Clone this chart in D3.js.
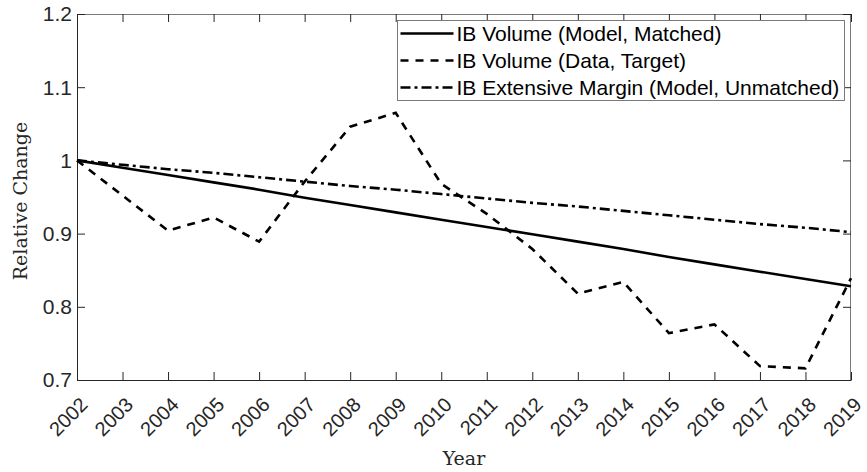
<!DOCTYPE html>
<html>
<head>
<meta charset="utf-8">
<script src="https://cdn.jsdelivr.net/npm/d3@7"></script>
<style>
	body { margin: 0; background: #fff; }
	svg { display: block; }
	.tick-label { font-family: 'Liberation Sans', Arial, sans-serif; font-size: 21px; fill: #262626; }
	.x-label { font-size: 20px; }
	.axis-title { font-family: 'DejaVu Serif', serif; font-size: 19px; fill: #262626; }
</style>
</head>
<body>
<div id="chart"></div>
<script>
// values
const years = [2002, 2003, 2004, 2005, 2006, 2007, 2008, 2009, 2010, 2011, 2012, 2013, 2014, 2015, 2016, 2017, 2018, 2019];
const modelMatched = [1.000, 0.990, 0.980, 0.970, 0.960, 0.949, 0.939, 0.929, 0.919, 0.909, 0.899, 0.889, 0.879, 0.868, 0.858, 0.848, 0.838, 0.828];
const dataTarget = [1.000, 0.952, 0.904, 0.922, 0.889, 0.971, 1.046, 1.065, 0.968, 0.927, 0.879, 0.818, 0.834, 0.764, 0.776, 0.719, 0.716, 0.839];
const extensiveMargin = [1.000, 0.994, 0.988, 0.983, 0.977, 0.971, 0.965, 0.960, 0.954, 0.948, 0.942, 0.937, 0.931, 0.925, 0.919, 0.913, 0.908, 0.902];
const yTicks = [0.7, 0.8, 0.9, 1.0, 1.1, 1.2];
const seriesNames = ['IB Volume (Model, Matched)', 'IB Volume (Data, Target)', 'IB Extensive Margin (Model, Unmatched)'];

const margin = { top: 14, right: 16, bottom: 92, left: 77 };
const totalW = 867;
const totalH = 472;
const width = totalW - margin.left - margin.right;
const height = totalH - margin.top - margin.bottom;

const series = [
	{ name: seriesNames[0], values: modelMatched, dash: null },
	{ name: seriesNames[1], values: dataTarget, dash: '8,7' },
	{ name: seriesNames[2], values: extensiveMargin, dash: '10,4,3,4' },
];

const svg = d3.select('#chart').append('svg')
	.attr('width', totalW)
	.attr('height', totalH);

const chart = svg.append('g')
	.attr('transform', `translate(${margin.left}, ${margin.top})`);

const x = d3.scaleLinear()
	.domain([years[0], years[years.length - 1]])
	.range([0, width]);
const y = d3.scaleLinear()
	.domain([0.7, 1.2])
	.range([height, 0]);

// box (top/right lighter, like the matlab export)
chart.append('line')
	.attr('x1', 0).attr('x2', width).attr('y1', 0.5).attr('y2', 0.5)
	.style('stroke', '#7a7a7a');
chart.append('line')
	.attr('x1', width - 0.5).attr('x2', width - 0.5).attr('y1', 0).attr('y2', height)
	.style('stroke', '#7a7a7a');

// bottom axis, ticks inward
const xAxis = d3.axisBottom(x)
	.tickValues(years)
	.tickSize(-8)
	.tickSizeOuter(0)
	.tickFormat('');
const xAxisG = chart.append('g')
	.attr('transform', `translate(0, ${height})`)
	.call(xAxis);

const xAxisTop = d3.axisTop(x)
	.tickValues(years)
	.tickSize(-8)
	.tickSizeOuter(0)
	.tickFormat('');
const xAxisTopG = chart.append('g')
	.call(xAxisTop);

const yAxis = d3.axisLeft(y)
	.tickValues(yTicks)
	.tickSize(-8)
	.tickSizeOuter(0)
	.tickFormat('');
const yAxisG = chart.append('g')
	.call(yAxis);

const yAxisRight = d3.axisRight(y)
	.tickValues(yTicks)
	.tickSize(-8)
	.tickSizeOuter(0)
	.tickFormat('');
const yAxisRightG = chart.append('g')
	.attr('transform', `translate(${width}, 0)`)
	.call(yAxisRight);

xAxisG.select('.domain').style('stroke', '#262626');
yAxisG.select('.domain').style('stroke', '#262626');
xAxisTopG.select('.domain').remove();
yAxisRightG.select('.domain').remove();
[xAxisG, xAxisTopG, yAxisG, yAxisRightG].forEach(g => {
	g.selectAll('.tick line').style('stroke', '#262626');
});

// tick labels (rotated 45deg, end of text just below-right of the tick)
chart.append('g').selectAll('text')
	.data(years)
	.enter()
	.append('text')
		.attr('class', 'tick-label x-label')
		.attr('text-anchor', 'end')
		.attr('dy', '0.35em')
		.attr('transform', d => `translate(${x(d) + 7}, ${height + 21}) rotate(-45)`)
		.text(d => d);

chart.append('g').selectAll('text')
	.data(yTicks)
	.enter()
	.append('text')
		.attr('class', 'tick-label')
		.attr('text-anchor', 'end')
		.attr('x', -5)
		.attr('y', d => y(d))
		.attr('dy', '0.35em')
		.text(d => d === 1 ? '1' : d3.format('.1f')(d));

// axis titles
chart.append('text')
	.attr('class', 'axis-title')
	.attr('text-anchor', 'middle')
	.attr('transform', `translate(${27 - margin.left}, ${height / 2 + 4}) rotate(-90)`)
	.text('Relative Change');
chart.append('text')
	.attr('class', 'axis-title')
	.attr('text-anchor', 'middle')
	.attr('x', width / 2)
	.attr('y', 465 - margin.top)
	.text('Year');

// lines
const lineFunc = (vals) => d3.line()
	.x((d, i) => x(years[i]))
	.y(d => y(d))(vals);

chart.append('g').selectAll('path')
	.data(series)
	.enter()
	.append('path')
		.style('fill', 'none')
		.style('stroke', '#000')
		.style('stroke-width', 2.6)
		.style('stroke-dasharray', d => d.dash)
		.attr('d', d => lineFunc(d.values));

// legend
const legendG = chart.append('g')
	.attr('transform', `translate(${397.5 - margin.left}, ${20.5 - margin.top})`);
legendG.append('rect')
	.attr('width', 447)
	.attr('height', 80)
	.style('fill', '#fff')
	.style('stroke', '#7a7a7a');

const legend = legendG.selectAll('g.item')
	.data(series)
	.enter()
	.append('g')
		.attr('class', 'item')
		.attr('transform', (d, i) => `translate(0, ${13 + i * 27})`);

legend.append('line')
	.attr('x1', 3)
	.attr('x2', 56)
	.style('stroke', '#000')
	.style('stroke-width', 2.6)
	.style('stroke-dasharray', d => d.dash);

legend.append('text')
	.attr('class', 'tick-label')
	.attr('x', 59)
	.attr('dy', '0.35em')
	.style('fill', '#000')
	.text(d => d.name);
</script>
</body>
</html>
